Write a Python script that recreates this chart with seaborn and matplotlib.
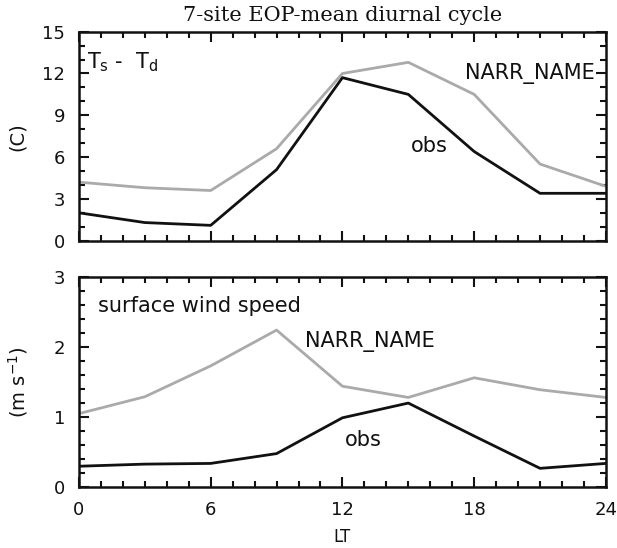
import numpy as np
import pandas as pd
import matplotlib
matplotlib.use("Agg")
import matplotlib.pyplot as plt
import seaborn as sns
from matplotlib.ticker import MultipleLocator

# ---- data ----
hours = [0, 3, 6, 9, 12, 15, 18, 21, 24]
td_obs = [2.0, 1.3, 1.1, 5.1, 11.7, 10.5, 6.4, 3.4, 3.4]
td_narr = [4.2, 3.8, 3.6, 6.6, 12.0, 12.8, 10.5, 5.5, 3.9]
ws_obs = [0.30, 0.33, 0.34, 0.48, 0.99, 1.20, 0.73, 0.27, 0.34]
ws_narr = [1.05, 1.29, 1.73, 2.24, 1.44, 1.28, 1.56, 1.39, 1.28]
x_ticks = [0, 6, 12, 18, 24]
title = "7-site EOP-mean diurnal cycle"

sns.set_style("ticks")
plt.rcParams['font.family'] = ['DejaVu Sans']
plt.rcParams['text.color'] = '#111111'
plt.rcParams['axes.labelcolor'] = '#111111'

fig = plt.figure(figsize=(6.17, 5.48), dpi=100)
ax1 = fig.add_axes([0.128, 0.5608, 0.854, 0.3814])
ax2 = fig.add_axes([0.128, 0.1108, 0.854, 0.3842])

dark = "#111111"
grey = "#aaaaaa"

df1 = pd.DataFrame({"LT": hours * 2, "val": td_obs + td_narr,
                    "src": ["obs"] * 9 + ["NARR_NAME"] * 9})
df2 = pd.DataFrame({"LT": hours * 2, "val": ws_obs + ws_narr,
                    "src": ["obs"] * 9 + ["NARR_NAME"] * 9})
pal = {"obs": dark, "NARR_NAME": grey}

for ax, df in [(ax1, df1), (ax2, df2)]:
    sns.lineplot(data=df, x="LT", y="val", hue="src", palette=pal,
                 hue_order=["NARR_NAME", "obs"], lw=2.0, ax=ax, legend=False)
    ax.set_xlim(0, 24)
    ax.xaxis.set_major_locator(MultipleLocator(6))
    ax.xaxis.set_minor_locator(MultipleLocator(1))
    ax.tick_params(which="both", direction="in", top=True, right=True,
                   width=1.5, colors="#111111", labelsize=13, pad=10)
    ax.tick_params(which="major", length=7)
    ax.tick_params(which="minor", length=4)
    for s in ax.spines.values():
        s.set_linewidth(1.8)
        s.set_color("#111111")
    ax.set_xlabel("")

ax1.set_ylim(0, 15)
ax1.yaxis.set_major_locator(MultipleLocator(3))
ax1.yaxis.set_minor_locator(MultipleLocator(1))
ax1.set_xticks(x_ticks)
ax1.set_xticklabels([])
ax1.set_ylabel("(C)", fontsize=14)
ax1.yaxis.set_label_coords(-0.099, 0.5)

ax2.set_ylim(0, 3)
ax2.yaxis.set_major_locator(MultipleLocator(1))
ax2.yaxis.set_minor_locator(MultipleLocator(0.2))
ax2.set_xticks(x_ticks)
ax2.set_ylabel("(m s$^{-1}$)", fontsize=14)
ax2.yaxis.set_label_coords(-0.092, 0.5)
ax2.set_xlabel("LT", fontsize=12)
ax2.xaxis.set_label_coords(0.5, -0.195)

fs = 15
ax1.text(0.36, 12.8, "T$_\\mathregular{s}$ -  T$_\\mathregular{d}$", fontsize=fs, va="center", ha="left")
ax1.text(17.6, 12.0, "NARR_NAME", fontsize=fs, va="center", ha="left")
ax1.text(15.1, 6.8, "obs", fontsize=fs, va="center", ha="left")
ax2.text(0.86, 2.59, "surface wind speed", fontsize=fs, va="center", ha="left")
ax2.text(10.28, 2.08, "NARR_NAME", fontsize=fs, va="center", ha="left")
ax2.text(12.13, 0.68, "obs", fontsize=fs, va="center", ha="left")

fig.text(0.555, 0.972, title, fontsize=15, family="DejaVu Serif",
         ha="center", va="center")

fig.savefig("out.png", dpi=100, facecolor="white")
